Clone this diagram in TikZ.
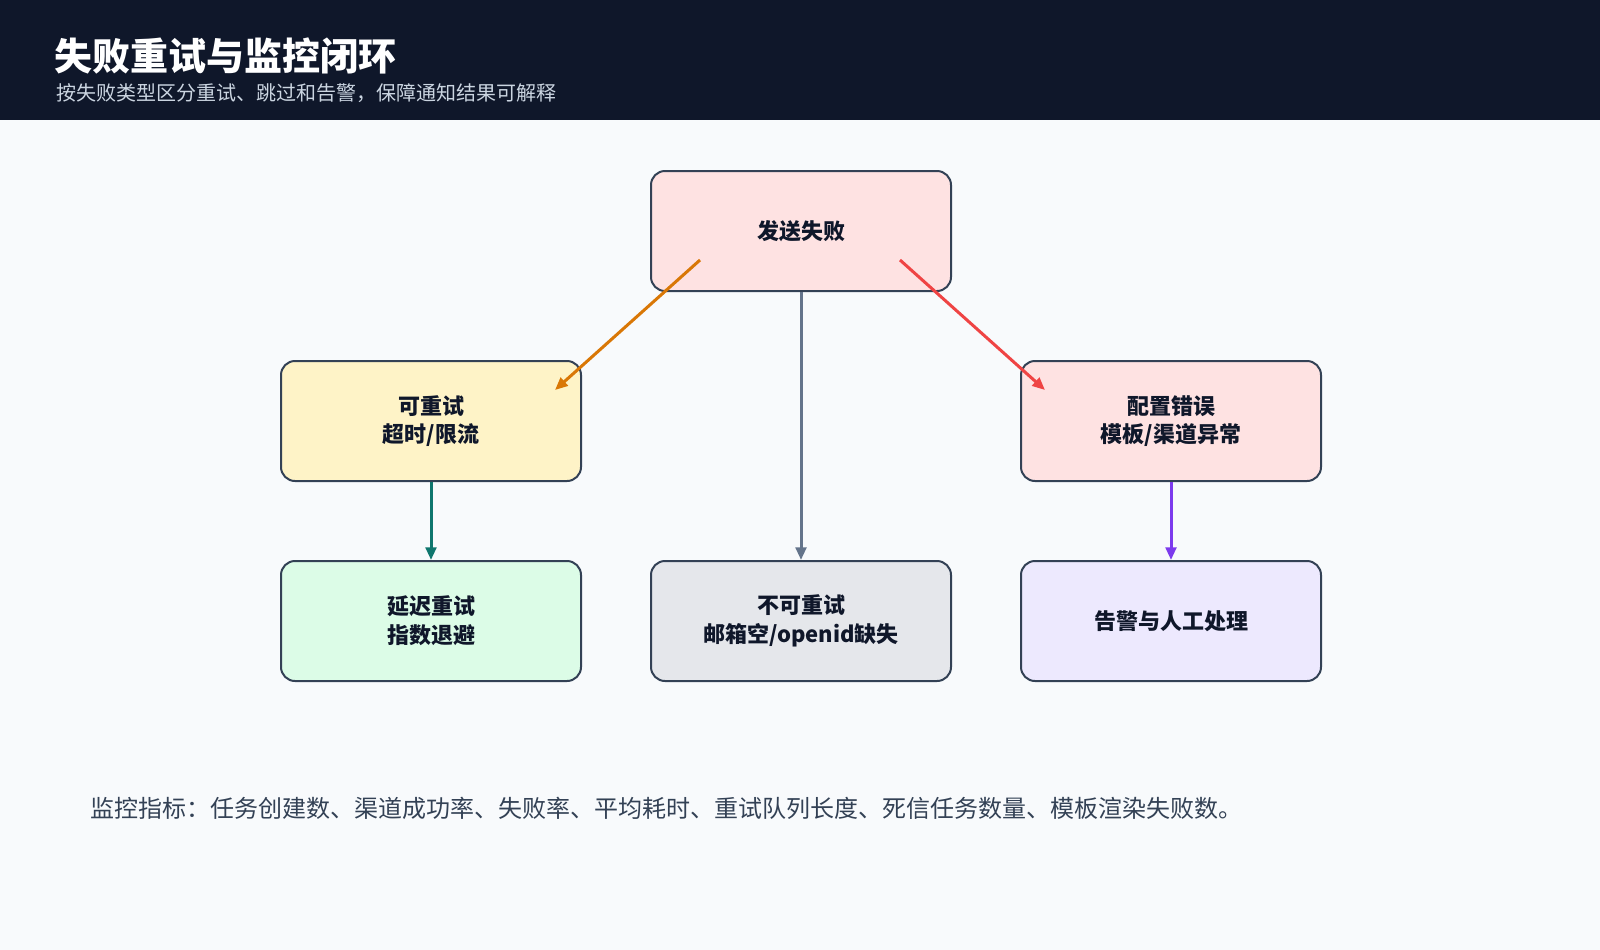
\documentclass[tikz,border=0pt]{standalone}
\usepackage{fontspec}
\setmainfont{Noto Sans CJK SC}
\usetikzlibrary{arrows.meta}
\definecolor{navy}{HTML}{0F172A}
\definecolor{bg}{HTML}{F8FAFC}
\definecolor{subt}{HTML}{CBD5E1}
\definecolor{edge}{HTML}{334155}
\definecolor{redfill}{HTML}{FEE2E2}
\definecolor{yelfill}{HTML}{FEF3C7}
\definecolor{grnfill}{HTML}{DCFCE7}
\definecolor{grayfill}{HTML}{E5E7EB}
\definecolor{purfill}{HTML}{EDE9FE}
\definecolor{corange}{HTML}{D97706}
\definecolor{cred}{HTML}{EF4444}
\definecolor{cgray}{HTML}{64748B}
\definecolor{cteal}{HTML}{0F766E}
\definecolor{cpurple}{HTML}{7C3AED}
\definecolor{bottomtext}{HTML}{334155}
\begin{document}
\begin{tikzpicture}[x=0.75pt,y=-0.75pt,
  box/.style={draw=edge, line width=1.5pt, rounded corners=10.5pt,
    minimum width=225pt, minimum height=90pt, inner sep=0pt, align=center,
    font=\bfseries\fontsize{16.5pt}{21.5pt}\selectfont, text=navy, anchor=north west},
  arr/.style={line width=2.25pt, -{Triangle[length=9.5pt,width=8pt]}}]
\useasboundingbox (0,0) rectangle (1600,950);
\fill[bg] (0,0) rectangle (1600,950);
\fill[navy] (0,0) rectangle (1600,120);
\node[anchor=west, text=white, inner sep=0pt, font=\bfseries\fontsize{28.5pt}{33pt}\selectfont] (title) at (54,56) {失败重试与监控闭环};
\node[anchor=west, text=subt, inner sep=0pt, font=\fontsize{15pt}{18pt}\selectfont] (subtitle) at (56,93) {按失败类型区分重试、跳过和告警，保障通知结果可解释};

\node[box, fill=redfill] (fail) at (650,170) {发送失败};
\node[box, fill=yelfill] (retry) at (280,360) {可重试\\超时/限流};
\node[box, fill=redfill] (config) at (1020,360) {配置错误\\模板/渠道异常};
\node[box, fill=grnfill] (delay) at (280,560) {延迟重试\\指数退避};
\node[box, fill=grayfill] (noretry) at (650,560) {不可重试\\邮箱空/openid缺失};
\node[box, fill=purfill] (alert) at (1020,560) {告警与人工处理};

\coordinate (oS) at (700,260);
\coordinate (oE) at (555,390);
\coordinate (rS) at (900,260);
\coordinate (rE) at (1045,390);

\draw[arr, corange] (oS) -- (oE);
\draw[arr, cred] (rS) -- (rE);
\draw[arr, cgray] (fail.south) -- (noretry.north);
\draw[arr, cteal] (retry.south) -- (delay.north);
\draw[arr, cpurple] (config.south) -- (alert.north);

\node[anchor=west, text=bottomtext, inner sep=0pt, font=\fontsize{18pt}{22pt}\selectfont] (metrics) at (90,808) {监控指标：任务创建数、渠道成功率、失败率、平均耗时、重试队列长度、死信任务数量、模板渲染失败数。};
\end{tikzpicture}
\end{document}
